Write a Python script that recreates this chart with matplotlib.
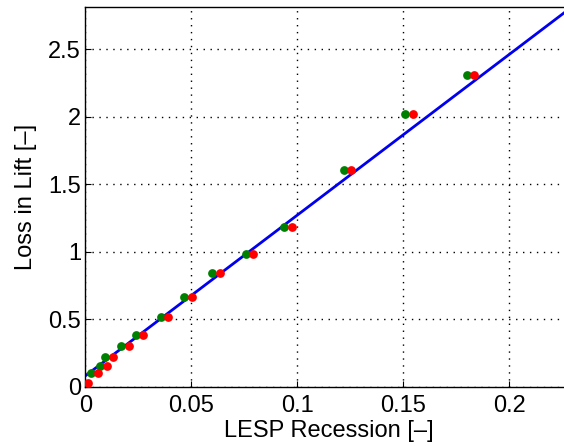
import matplotlib
matplotlib.use("Agg")
import matplotlib.pyplot as plt
import numpy as np

plt.rcParams['font.family'] = ['Liberation Sans', 'DejaVu Sans']

# green points (first set)
green_x = [0.0026, 0.0070, 0.0095, 0.0170, 0.0238, 0.0356, 0.0466, 0.0600,
           0.0757, 0.0939, 0.1220, 0.1510, 0.1799]
green_y = [0.104, 0.153, 0.222, 0.303, 0.380, 0.515, 0.661, 0.839,
           0.984, 1.183, 1.603, 2.022, 2.311]
# red points (second set)
red_x = [0.0011, 0.0059, 0.0102, 0.0129, 0.0206, 0.0272, 0.0389, 0.0502, 0.0634,
         0.0791, 0.0974, 0.1253, 0.1544, 0.1834]
red_y = [0.030, 0.104, 0.153, 0.222, 0.303, 0.380, 0.515, 0.661, 0.839,
         0.984, 1.183, 1.603, 2.022, 2.311]
# linear fit
fit_x = [0.0, 0.23]
fit_intercept = 0.08
fit_slope = 11.9

fig = plt.figure(figsize=(5.64, 4.46), dpi=100)
ax = fig.add_axes([0.1512, 0.133, 0.8645, 0.851])

fx = np.array(fit_x)
ax.plot(fx, fit_intercept + fit_slope * fx, color='#0000ee', lw=2.0, zorder=2)
ax.plot(green_x, green_y, 'o', color='#008000', ms=6.3, mec='none', zorder=3)
ax.plot(red_x, red_y, 'o', color='#ff0000', ms=6.3, mec='none', zorder=4)

ax.set_xlim(0, 0.23)
ax.set_ylim(0, 2.81)
ax.set_xticks([0, 0.05, 0.1, 0.15, 0.2])
ax.set_xticklabels(['0', '0.05', '0.1', '0.15', '0.2'])
ax.set_yticks([0, 0.5, 1, 1.5, 2, 2.5])
ax.set_yticklabels(['0', '0.5', '1', '1.5', '2', '2.5'])
ax.grid(True, color='black', linestyle=(0, (1, 4)), linewidth=1.0)
ax.set_axisbelow(True)
ax.tick_params(direction='in', labelsize=17, length=4)
ax.tick_params(axis='x', pad=6)
ax.tick_params(axis='y', pad=3)
for s in ax.spines.values():
    s.set_linewidth(1.0)

ax.set_xlabel('LESP Recession [–]', fontsize=17, labelpad=2)
ax.set_ylabel('Loss in Lift [–]', fontsize=17, labelpad=8)

fig.savefig('out.png', dpi=100)
